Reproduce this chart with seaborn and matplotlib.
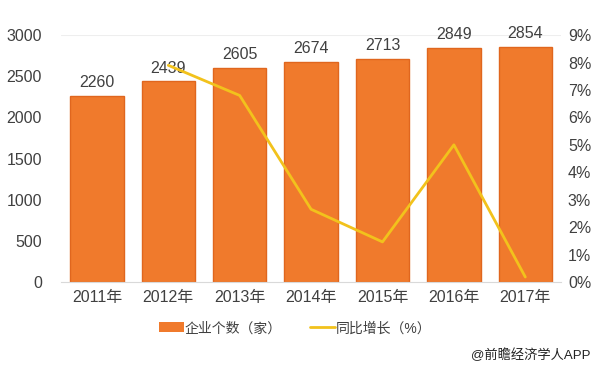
import numpy as np
import pandas as pd
import matplotlib
matplotlib.use('Agg')
import matplotlib.pyplot as plt
import seaborn as sns
from matplotlib.patches import Patch
from matplotlib.lines import Line2D

# 数据
years = ['2011年', '2012年', '2013年', '2014年', '2015年', '2016年', '2017年']
counts = [2260, 2439, 2605, 2674, 2713, 2849, 2854]
growth_years = ['2012年', '2013年', '2014年', '2015年', '2016年', '2017年']
growth = [7.9, 6.8, 2.65, 1.46, 5.0, 0.18]

bar_color = '#f07a2c'
edge_color = '#e0661e'
line_color = '#f2c21c'
text_color = '#404040'

sns.set_style('white')
plt.rcParams['font.family'] = ['Liberation Sans', 'Noto Sans CJK SC', 'DejaVu Sans']

fig = plt.figure(figsize=(6, 3.7), dpi=100)
ax = fig.add_axes([0.102, 0.238, 0.833, 0.667])

df = pd.DataFrame({'year': years, 'count': counts})
sns.barplot(data=df, x='year', y='count', color=bar_color, width=0.75,
            saturation=1, edgecolor=edge_color, linewidth=1, ax=ax)
for i, v in enumerate(counts):
    ax.text(i, v + 70, str(v), ha='center', va='bottom', fontsize=11.5,
            color=text_color)

ax.set_ylim(0, 3000)
ax.set_yticks(range(0, 3001, 500))
ax.set_xlim(-0.5, 6.5)
ax.set_xlabel('')
ax.set_ylabel('')
ax.tick_params(axis='both', length=0, labelsize=11.5, colors=text_color, pad=6)
ax.tick_params(axis='y', pad=14)
for s in ['top', 'right', 'left']:
    ax.spines[s].set_visible(False)
ax.spines['bottom'].set_color('#d9d9d9')
ax.axhline(3000, color='#eeeeee', lw=0.8, zorder=0)

ax2 = ax.twinx()
pos = [years.index(y) for y in growth_years]
sns.lineplot(x=pos, y=growth, color=line_color, lw=2, ax=ax2)
ax2.set_ylim(0, 9)
ax2.set_yticks(range(0, 10))
ax2.set_yticklabels([f'{i}%' for i in range(0, 10)])
ax2.tick_params(axis='y', length=0, labelsize=11.5, colors=text_color, pad=5)
for s in ['top', 'right', 'left', 'bottom']:
    ax2.spines[s].set_visible(False)

handles = [Patch(facecolor=bar_color, edgecolor='none'),
           Line2D([0], [0], color=line_color, lw=2)]
fig.legend(handles, ['企业个数（家）', '同比增长（%）'], loc='center',
           bbox_to_anchor=(0.492, 0.113), ncol=2, frameon=False, fontsize=10,
           handlelength=1.8, handletextpad=0.1, columnspacing=2.0,
           labelcolor=text_color)

fig.text(0.985, 0.04, '@前瞻经济学人APP', ha='right', va='center',
         fontsize=9.5, color='#222222')

fig.savefig('out.png', dpi=100)
